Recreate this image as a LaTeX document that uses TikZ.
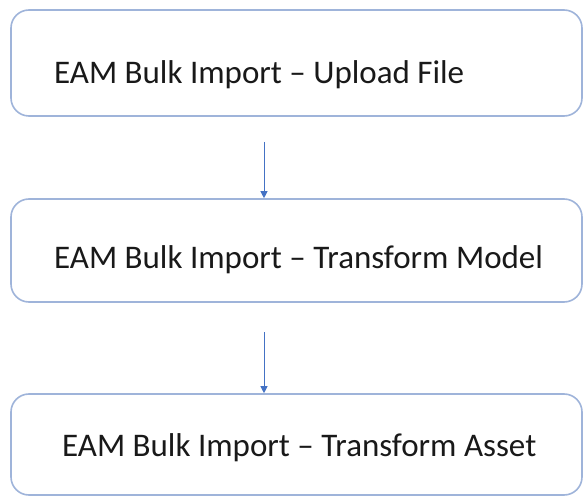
\documentclass[tikz,border=0pt]{standalone}
\usepackage{fontspec}
\setmainfont{Carlito}
\usetikzlibrary{arrows.meta}
\definecolor{boxline}{HTML}{9FB4DA}
\definecolor{arrowblue}{HTML}{4472C4}
\tikzset{
  stepbox/.style={draw=boxline, line width=1.6pt, rounded corners=18pt, rectangle, fill=white, minimum width=571pt, inner sep=0pt},
  steptext/.style={anchor=base west, inner sep=0pt, font=\fontsize{33pt}{37pt}\selectfont, text=black!90},
  flowarrow/.style={draw=arrowblue, line width=1pt, -{Triangle[length=7pt,width=7pt]}}
}
\begin{document}
\begin{tikzpicture}[x=1pt,y=-1pt]
\useasboundingbox (0,0) rectangle (584,497);
\node[stepbox, minimum height=106pt] (b1) at (296.5,63) {};
\node[stepbox, minimum height=103pt] (b2) at (296.5,250.5) {};
\node[stepbox, minimum height=101pt] (b3) at (296.5,444.5) {};
\node[steptext] (t1) at (54,84) {EAM Bulk Import – Upload File};
\node[steptext] (t2) at (54,269) {EAM Bulk Import – Transform Model};
\node[steptext] (t3) at (62,456) {EAM Bulk Import – Transform Asset};
\coordinate (a1) at (264,142);
\coordinate (a2) at (264,332);
\draw[flowarrow] (a1) -- (a1 |- b2.north);
\draw[flowarrow] (a2) -- (a2 |- b3.north);
\end{tikzpicture}
\end{document}
